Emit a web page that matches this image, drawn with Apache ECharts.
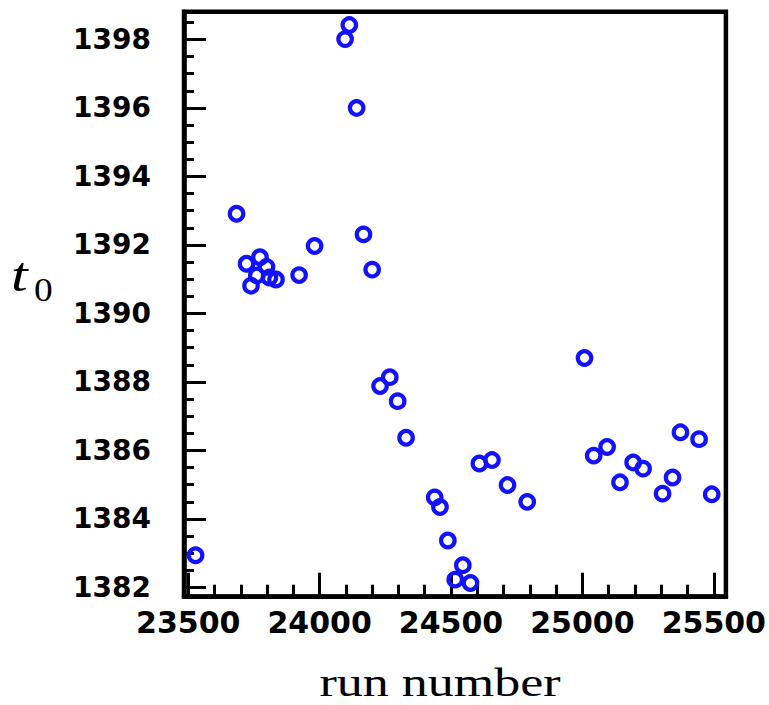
<!DOCTYPE html>
<html><head><meta charset="utf-8">
<script src="https://cdn.jsdelivr.net/npm/echarts@6/dist/echarts.min.js"></script>
<style>html,body{margin:0;padding:0;background:#fff}#c{width:769px;height:705px}</style>
</head><body><div id="c"></div>
<script>
// ---- data ----
const runNumber = [23528, 23684, 23722, 23739, 23761, 23773, 23798, 23809, 23834, 23922,
  23981, 24097, 24113, 24141, 24167, 24200, 24230, 24267, 24297, 24329,
  24438, 24458, 24488, 24516, 24545, 24574, 24608, 24656, 24715, 24790,
  25008, 25043, 25094, 25143, 25193, 25231, 25305, 25343, 25373, 25444, 25492];
const t0Values = [1382.94, 1392.91, 1391.45, 1390.81, 1391.11, 1391.64, 1391.36, 1391.05, 1390.99, 1391.12,
  1391.97, 1398.01, 1398.42, 1396.00, 1392.31, 1391.28, 1387.88, 1388.14, 1387.44, 1386.37,
  1384.63, 1384.35, 1383.37, 1382.23, 1382.65, 1382.13, 1385.62, 1385.72, 1384.99, 1384.50,
  1388.70, 1385.85, 1386.10, 1385.07, 1385.65, 1385.47, 1384.74, 1385.21, 1386.53, 1386.33, 1384.72];
const xTickLabels = [23500, 24000, 24500, 25000, 25500];
const xMinorTicks = [23600, 23700, 23800, 23900, 24100, 24200, 24300, 24400, 24600, 24700, 24800, 24900,
  25100, 25200, 25300, 25400];
const yTickLabels = [1382, 1384, 1386, 1388, 1390, 1392, 1394, 1396, 1398];
const yMinorTicks = [1382.5, 1383, 1383.5, 1384.5, 1385, 1385.5, 1386.5, 1387, 1387.5, 1388.5, 1389, 1389.5,
  1390.5, 1391, 1391.5, 1392.5, 1393, 1393.5, 1394.5, 1395, 1395.5, 1396.5, 1397, 1397.5, 1398.5];
const xTitle = 'run number';
const yTitleMain = 't';
const yTitleSub = '0';

const X_MIN = 23484, X_MAX = 25546, Y_MIN = 1381.73, Y_MAX = 1398.81;
const tickFont = 'DejaVu Sans';

const chart = echarts.init(document.getElementById('c'), null, {renderer: 'svg'});
const points = runNumber.map((x, i) => [x, t0Values[i]]);

const baseX = {type: 'value', min: X_MIN, max: X_MAX, position: 'bottom', splitLine: {show: false}, gridIndex: 0};
const baseY = {type: 'value', min: Y_MIN, max: Y_MAX, position: 'left', splitLine: {show: false}, gridIndex: 0};

chart.setOption({
  animation: false,
  backgroundColor: '#fff',
  grid: {left: 184, top: 11.7, width: 544, height: 585, show: true, borderColor: '#000', borderWidth: 4.5, backgroundColor: 'transparent'},
  xAxis: [
    Object.assign({}, baseX, {
      axisLine: {show: true, onZero: false, lineStyle: {color: '#000', width: 4.5}},
      axisTick: {show: true, inside: true, length: 24, customValues: xTickLabels, lineStyle: {color: '#000', width: 3}},
      axisLabel: {show: true, customValues: xTickLabels, margin: 11, color: '#000', fontFamily: tickFont, fontWeight: 'bold', fontSize: 30,
        formatter: v => String(Math.round(v))}
    }),
    Object.assign({}, baseX, {
      axisLine: {show: false},
      axisTick: {show: true, inside: true, length: 12, customValues: xMinorTicks, lineStyle: {color: '#000', width: 3}},
      axisLabel: {show: false}
    })
  ],
  yAxis: [
    Object.assign({}, baseY, {
      axisLine: {show: true, onZero: false, lineStyle: {color: '#000', width: 4.5}},
      axisTick: {show: true, inside: true, length: 22, customValues: yTickLabels, lineStyle: {color: '#000', width: 3}},
      axisLabel: {show: true, customValues: yTickLabels, margin: 33, color: '#000', fontFamily: tickFont, fontWeight: 'bold', fontSize: 28,
        formatter: v => String(Math.round(v))}
    }),
    Object.assign({}, baseY, {
      axisLine: {show: false},
      axisTick: {show: true, inside: true, length: 10, customValues: yMinorTicks, lineStyle: {color: '#000', width: 3}},
      axisLabel: {show: false}
    })
  ],
  series: [{
    type: 'scatter',
    xAxisIndex: 0, yAxisIndex: 0,
    data: points,
    symbol: 'circle',
    symbolSize: 13.5,
    itemStyle: {color: 'rgba(0,0,0,0)', borderColor: '#1212ff', borderWidth: 4.2, opacity: 1},
    emphasis: {disabled: true},
    z: 5
  }],
  graphic: [
    {type: 'text', x: 440, y: 682.5, scaleX: 1.3, originX: 0, originY: 0,
      style: {text: xTitle, fontFamily: 'Liberation Serif', fontSize: 40, fill: '#000', align: 'center', verticalAlign: 'middle'}},
    {type: 'text', x: 11, y: 275, scaleX: 1.25, originX: 0, originY: 0,
      style: {text: yTitleMain, fontFamily: 'Liberation Serif', fontStyle: 'italic', fontSize: 48, fill: '#000', align: 'left', verticalAlign: 'middle'}},
    {type: 'text', x: 34, y: 290, scaleX: 1.1, originX: 0, originY: 0,
      style: {text: yTitleSub, fontFamily: 'Liberation Serif', fontSize: 34, fill: '#000', align: 'left', verticalAlign: 'middle'}}
  ]
});
</script>
</body></html>
